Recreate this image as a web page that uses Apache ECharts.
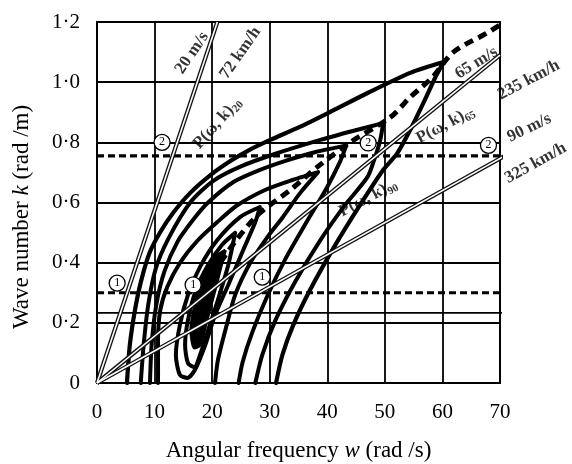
<!DOCTYPE html>
<html><head><meta charset="utf-8">
<script src="https://cdn.jsdelivr.net/npm/echarts@6/dist/echarts.min.js"></script>
<style>html,body{margin:0;padding:0;background:#fff}#c{width:572px;height:464px}</style>
</head><body><div id="c"></div>
<script>
// ---- data (angular frequency w, wave number k) ----
const xTicks = [0, 10, 20, 30, 40, 50, 60, 70];
const yTicks = [0, 0.2, 0.4, 0.6, 0.8, 1.0, 1.2];

const contour1 = [[5.2,0],[5.7,0.126],[6.6,0.243],[7.7,0.342],[9.2,0.436],[11.0,0.502],[13.2,0.565],[16.2,0.632],[19.7,0.691],[23.1,0.737],[26.5,0.775],[30.1,0.808],[35.3,0.852],[40.5,0.901],[47.0,0.964],[54.4,1.031],[60.2,1.067],[58.8,1.017],[56.7,0.931],[54.4,0.841],[52.2,0.765],[49.7,0.708],[45.7,0.592],[41.4,0.459],[37.0,0.309],[34.1,0.193],[32.2,0.093],[31.1,0]];
const contour2 = [[7.6,0],[8.1,0.126],[8.9,0.26],[10.2,0.38],[12.4,0.48],[16.2,0.6],[20.2,0.672],[25.0,0.72],[31.0,0.762],[38.8,0.808],[44.9,0.840],[49.7,0.864],[49.2,0.808],[48.3,0.751],[47.0,0.685],[43.1,0.592],[38.8,0.475],[34.4,0.336],[31.0,0.209],[28.7,0.093],[27.5,0]];
const contour3 = [[9.2,0],[9.5,0.13],[10.3,0.26],[11.7,0.37],[14.0,0.47],[16.8,0.545],[19.3,0.6],[23.7,0.668],[28.0,0.706],[33.0,0.74],[38.0,0.768],[43.3,0.79],[42.2,0.735],[39.8,0.645],[36.4,0.535],[32.8,0.415],[29.6,0.29],[27.0,0.17],[25.3,0.07],[24.6,0]];
const contour4 = [[10.6,0],[10.6,0.143],[11.0,0.243],[12.2,0.319],[14.4,0.399],[17.4,0.472],[20.9,0.535],[24.3,0.59],[29.0,0.64],[33.5,0.672],[38.4,0.701],[35.3,0.632],[32.3,0.552],[29.6,0.485],[26.6,0.399],[24.0,0.293],[22.3,0.176],[21.0,0.076],[20.5,0]];
const contour5 = [[28.3,0.585],[24.9,0.552],[20.9,0.475],[17.9,0.386],[15.8,0.293],[14.4,0.193],[13.7,0.093],[14.4,0.027],[15.7,0.017],[17.0,0.043],[18.8,0.126],[20.5,0.226],[22.8,0.326],[25.4,0.442],[27.5,0.535],[28.3,0.585]];
const contour6 = [[24.0,0.499],[21.7,0.459],[19.3,0.392],[17.2,0.309],[15.8,0.209],[15.3,0.126],[15.8,0.066],[16.9,0.053],[17.9,0.093],[19.3,0.176],[21.0,0.276],[22.8,0.392],[24.0,0.499]];
const contour7 = [[22.3,0.442],[20.5,0.416],[18.4,0.342],[17.0,0.259],[16.3,0.176],[16.9,0.116],[17.9,0.126],[19.1,0.209],[20.5,0.309],[21.6,0.392],[22.3,0.442]];
const ridge = [[20.0,0.36],[24.0,0.47],[28.0,0.56],[33.6,0.642],[38.4,0.72],[44.0,0.80],[51.0,0.884],[54.4,0.95],[58.3,1.017],[61.9,1.10],[67.8,1.164],[70.0,1.19]];

const dashedLevelHigh = [[0,0.755],[70,0.755]];
const dashedLevelLow = [[0,0.30],[70,0.30]];
const solidLevel = [[0,0.233],[73.5,0.233]];

const speed20 = [[0,0],[20.9,1.2]];
const speed65 = [[0,0],[70,1.09]];
const speed90 = [[0,0],[77,0.821]];

const circleOne = [[3.5,0.332],[16.7,0.326],[28.7,0.352]];
const circleTwo = [[11.3,0.8],[47.1,0.798],[68.0,0.79]];

// annotations: [text, w, k, angle]
const speedLabels = [
  ['20 m/s', 16.5, 1.097, 56],
  ['72 km/h', 24.9, 1.097, 55],
  ['65 m/s', 65.9, 1.064, 32],
  ['235 km/h', 75.0, 1.007, 28],
  ['90 m/s', 75.1, 0.848, 26],
  ['325 km/h', 76.2, 0.731, 29]
];
const pLabels = [
  ['20', 20.9, 0.864, 48],
  ['65', 60.5, 0.858, 28],
  ['90', 47.1, 0.615, 28]
];

const SERIF = '"Liberation Serif", "DejaVu Serif", serif';
const chart = echarts.init(document.getElementById('c'));

function contour(data, w) {
  return {type:'line', data, smooth:0.25, symbol:'none', clip:false, z:3,
    lineStyle:{color:'#000', width:w||4, cap:'round', join:'round'}};
}
function doubleLine(data) {
  return [
    {type:'line', data, symbol:'none', clip:false, z:6, lineStyle:{color:'#111', width:4.2}},
    {type:'line', data, symbol:'none', clip:false, z:7, lineStyle:{color:'#fff', width:1.6}}
  ];
}
function circles(data, txt) {
  return {type:'scatter', data, symbol:'circle', symbolSize:16, clip:false, z:9,
    itemStyle:{color:'#fff', borderColor:'#000', borderWidth:1.3, opacity:1},
    label:{show:true, position:'inside', formatter:txt, color:'#000', fontFamily:SERIF, fontSize:12}};
}

const series = [
  {type:'line', data:dashedLevelHigh, symbol:'none', z:2, lineStyle:{color:'#000', width:3.2, type:[7,4]}},
  {type:'line', data:dashedLevelLow, symbol:'none', z:2, lineStyle:{color:'#000', width:3.2, type:[7,4]}},
  {type:'line', data:solidLevel, symbol:'none', clip:false, z:2, lineStyle:{color:'#000', width:1.6}},
  {type:'line', data:ridge, symbol:'none', smooth:0.3, clip:false, z:3, lineStyle:{color:'#000', width:5, type:[9,6]}},
  contour(contour1, 4.2),
  contour(contour2, 4),
  contour(contour3, 4),
  contour(contour4, 4),
  contour(contour5, 4),
  contour(contour6, 4),
  {type:'line', data:contour7, smooth:0.25, symbol:'none', z:4,
    lineStyle:{color:'#000', width:3}, areaStyle:{color:'#000', opacity:1, origin:'start'}},
  ...doubleLine(speed20),
  ...doubleLine(speed65),
  ...doubleLine(speed90),
  circles(circleOne, '1'),
  circles(circleTwo, '2'),
  {type:'scatter', symbolSize:0, clip:false, z:10, silent:true,
    data: speedLabels.map(a => ({value:[a[1], a[2]],
      label:{show:true, position:'inside', formatter:a[0], rotate:a[3], color:'#000',
        fontFamily:SERIF, fontSize:17, fontWeight:'bold'}}))},
  {type:'scatter', symbolSize:0, clip:false, z:10, silent:true,
    data: pLabels.map(a => ({value:[a[1], a[2]],
      label:{show:true, position:'inside', formatter:'{a|P(ω, k)}{s|' + a[0] + '}', rotate:a[3], color:'#000',
        rich:{a:{fontFamily:SERIF, fontSize:17, fontWeight:'bold', color:'#000'}, s:{fontFamily:SERIF, fontSize:11, fontWeight:'bold', color:'#000', padding:[9,0,0,0]}}}}))}
];

chart.setOption({
  animation:false,
  backgroundColor:'#fff',
  grid:{left:97, right:72, top:22, bottom:81, show:true, borderColor:'#000', borderWidth:1.8,
    containLabel:false, outerBoundsMode:'none'},
  xAxis:{type:'value', min:xTicks[0], max:xTicks[xTicks.length-1], interval:10,
    axisLine:{show:true, lineStyle:{color:'#000', width:1.8}}, axisTick:{show:false},
    splitLine:{show:true, lineStyle:{color:'#000', width:1.8}},
    axisLabel:{color:'#000', fontFamily:SERIF, fontSize:21, margin:19},
    name:'{a|Angular frequency }{i|w}{a| (rad /s)}', nameLocation:'middle', nameGap:56,
    nameTextStyle:{rich:{a:{fontFamily:SERIF, fontSize:23, color:'#000'}, i:{fontFamily:SERIF, fontSize:23, fontStyle:'italic', color:'#000'}}}},
  yAxis:{type:'value', min:yTicks[0], max:yTicks[yTicks.length-1], interval:0.2,
    axisLine:{show:true, lineStyle:{color:'#000', width:1.8}}, axisTick:{show:false},
    splitLine:{show:true, lineStyle:{color:'#000', width:1.8}},
    axisLabel:{color:'#000', fontFamily:SERIF, fontSize:21, margin:17,
      formatter: v => v === 0 ? '0' : v.toFixed(1).replace('.', '·')}},
  graphic:[{type:'text', x:22, y:217, rotation:Math.PI/2,
    style:{text:'{a|Wave number }{i|k}{a| (rad /m)}', align:'center', verticalAlign:'middle',
      rich:{a:{fontFamily:SERIF, fontSize:23, fill:'#000'}, i:{fontFamily:SERIF, fontSize:23, fontStyle:'italic', fill:'#000'}}}}],
  series
});
</script></body></html>
